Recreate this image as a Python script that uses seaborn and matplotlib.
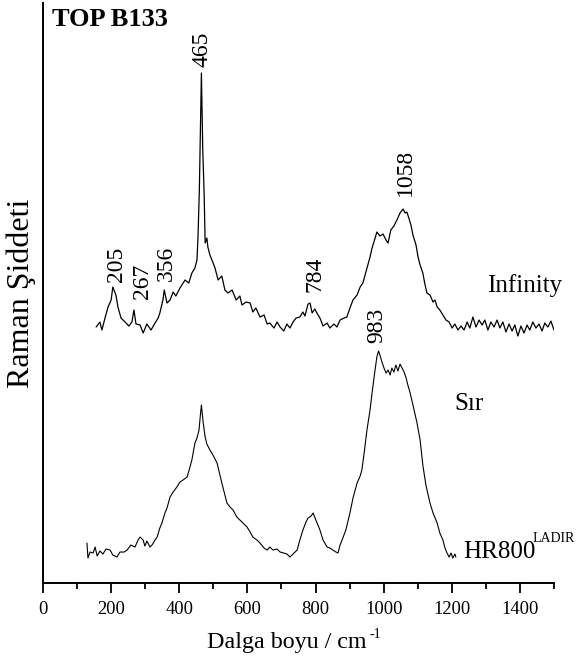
import numpy as np
import pandas as pd
import matplotlib
matplotlib.use("Agg")
import matplotlib.pyplot as plt
import seaborn as sns

# ---- data (wavenumber cm^-1, relative Raman intensity) ----
infinity_x = [156, 167, 173, 182, 191, 200, 205, 214, 220, 229, 241, 252, 261, 267, 273, 285,
              294, 305, 317, 329, 338, 343, 352, 356, 364, 373, 382, 390, 402, 417, 428, 437,
              446, 452, 455, 459, 465, 469, 473, 476, 481, 484, 490, 496, 505, 514, 525, 534,
              543, 555, 567, 578, 584, 596, 608, 616, 625, 637, 649, 658, 666, 678, 687, 696,
              707, 716, 725, 734, 743, 754, 763, 769, 778, 784, 790, 798, 804, 813, 822, 834,
              842, 854, 863, 872, 884, 892, 901, 910, 922, 931, 939, 948, 954, 960, 966, 975,
              980, 989, 998, 1007, 1013, 1021, 1030, 1039, 1048, 1057, 1063, 1068, 1074, 1080,
              1086, 1095, 1101, 1107, 1115, 1121, 1127, 1136, 1145, 1151, 1157, 1165, 1174,
              1183, 1192, 1201, 1209, 1218, 1227, 1236, 1245, 1253, 1262, 1271, 1280, 1289,
              1297, 1306, 1315, 1324, 1333, 1341, 1350, 1359, 1368, 1377, 1385, 1394, 1403,
              1412, 1421, 1429, 1438, 1447, 1456, 1465, 1473, 1482, 1491, 1500]
infinity_y = [256, 261, 253, 265, 276, 283, 296, 288, 276, 265, 261, 257, 261, 273, 259, 258,
              250, 259, 253, 260, 265, 270, 283, 293, 280, 283, 291, 287, 295, 303, 300, 310,
              315, 323, 346, 393, 510, 433, 390, 340, 345, 336, 328, 323, 315, 303, 307, 293,
              290, 293, 283, 287, 278, 281, 280, 271, 275, 266, 268, 259, 260, 255, 261, 256,
              252, 259, 255, 261, 265, 266, 271, 267, 279, 280, 270, 274, 270, 265, 257, 260,
              255, 259, 256, 263, 265, 266, 275, 283, 288, 296, 300, 311, 318, 326, 335, 345,
              351, 347, 349, 343, 340, 353, 357, 363, 370, 374, 370, 371, 365, 358,
              348, 338, 326, 318, 310, 299, 290, 288, 281, 283, 276, 273, 268,
              263, 261, 255, 259, 253, 257, 253, 261, 255, 266, 256, 263, 258,
              263, 253, 261, 256, 263, 255, 261, 251, 259, 252, 258, 247, 257,
              250, 258, 253, 261, 255, 259, 252, 260, 256, 262, 253]

sir_x = [129, 132, 138, 147, 153, 159, 167, 176, 185, 197, 205, 217, 226, 238, 247, 258, 270,
         279, 285, 294, 299, 305, 314, 320, 329, 335, 343, 349, 358, 364, 373, 382, 393, 402,
         411, 423, 429, 437, 446, 452, 458, 462, 465, 470, 476, 481, 490, 499, 511, 520, 525,
         534, 540, 549, 558, 569, 578, 587, 599, 608, 616, 628, 637, 649, 658, 666, 675, 687,
         696, 707, 716, 725, 734, 746, 754, 763, 772, 778, 787, 793, 801, 813, 822, 834, 842,
         851, 860, 866, 872, 878, 889, 901, 910, 922, 931, 936, 942, 951, 960, 966, 972, 980,
         985, 989, 995, 1001, 1007, 1013, 1019, 1024, 1030, 1036, 1042, 1048, 1054, 1060,
         1066, 1071, 1077, 1086, 1098, 1107, 1115, 1124, 1136, 1145, 1157, 1165, 1174, 1180,
         1186, 1192, 1198, 1203, 1209, 1212]
sir_y = [40, 25, 31, 30, 36, 27, 32, 29, 34, 33, 28, 26, 31, 31, 33, 38, 36,
         43, 46, 43, 37, 42, 36, 38, 43, 46, 55, 60, 70, 75, 86, 91, 96, 101,
         103, 106, 113, 123, 140, 145, 153, 168, 178, 161, 146, 139, 133, 128, 120, 107, 100,
         88, 80, 76, 73, 66, 63, 60, 56, 51, 46, 43, 40, 35, 33, 36, 33, 34,
         31, 30, 29, 26, 29, 33, 43, 53, 61, 65, 67, 70, 63, 53, 43, 36, 35,
         33, 31, 30, 38, 43, 53, 70, 85, 100, 107, 113, 128, 153, 173, 190, 206, 226,
         232, 228, 221, 215, 210, 213, 208, 215, 211, 218, 212, 219, 215, 211,
         205, 198, 191, 178, 160, 143, 118, 98, 80, 70, 60, 50, 43, 35,
         30, 26, 30, 25, 29, 26]

peak_labels = ["205", "267", "356", "465", "784", "983", "1058"]
peak_label_x = [217, 291, 361, 467, 798, 980, 1064]
peak_label_y = [319, 302, 320, 534, 309, 258, 411]

x_ticks = [0, 200, 400, 600, 800, 1000, 1200, 1400]

# ---- style ----
sns.set_style("ticks")
plt.rcParams["font.family"] = ["Liberation Serif", "DejaVu Serif"]
plt.rcParams["text.color"] = "black"
plt.rcParams["axes.labelcolor"] = "black"
plt.rcParams["xtick.color"] = "black"
plt.rcParams["ytick.color"] = "black"
plt.rcParams["axes.edgecolor"] = "black"

fig = plt.figure(figsize=(5.81, 6.68), dpi=100)
ax = fig.add_axes([0.074, 0.1272, 0.8795, 0.8683])

df_inf = pd.DataFrame({"x": infinity_x, "y": infinity_y})
df_sir = pd.DataFrame({"x": sir_x, "y": sir_y})
sns.lineplot(data=df_inf, x="x", y="y", ax=ax, color="black", linewidth=0.9)
sns.lineplot(data=df_sir, x="x", y="y", ax=ax, color="black", linewidth=0.8)

ax.set_xlim(0, 1500)
ax.set_ylim(0, 580)
ax.set_xticks(x_ticks)
ax.set_xticks(np.arange(100, 1501, 200), minor=True)
ax.set_yticks([])
ax.tick_params(axis="x", which="major", direction="out", length=7, width=1.3,
               labelsize=13.3, pad=6, colors="black")
ax.tick_params(axis="x", which="minor", direction="out", length=4, width=1.3, colors="black")
for side in ["top", "right"]:
    ax.spines[side].set_visible(False)
for side in ["left", "bottom"]:
    ax.spines[side].set_linewidth(1.4)
    ax.spines[side].set_color("black")

ax.set_xlabel("")
ax.text(0.634, -0.112, "Dalga boyu / cm", transform=ax.transAxes, fontsize=17.3,
        ha="right", va="baseline", color="black")
ax.text(0.638, -0.094, "-1", transform=ax.transAxes, fontsize=10, ha="left", va="baseline",
        color="black")
ax.set_ylabel("Raman Şiddeti", fontsize=23, labelpad=5, color="black")

for lab, lx, ly in zip(peak_labels, peak_label_x, peak_label_y):
    ax.text(lx, ly, lab, rotation=90, ha="center", va="center", fontsize=17, color="black")

ax.text(26, 557, "TOP B133", fontsize=19, fontweight="bold", ha="left", va="baseline",
        color="black")
ax.text(1303, 291, "Infinity", fontsize=18, ha="left", va="baseline", color="black")
ax.text(1209, 173, "Sır", fontsize=18, ha="left", va="baseline", color="black")
ax.text(1233, 25, "HR800", fontsize=18, ha="left", va="baseline", color="black")
ax.text(1438, 41, "LADIR", fontsize=10, ha="left", va="baseline", color="black")

fig.savefig("out.png", dpi=100)
